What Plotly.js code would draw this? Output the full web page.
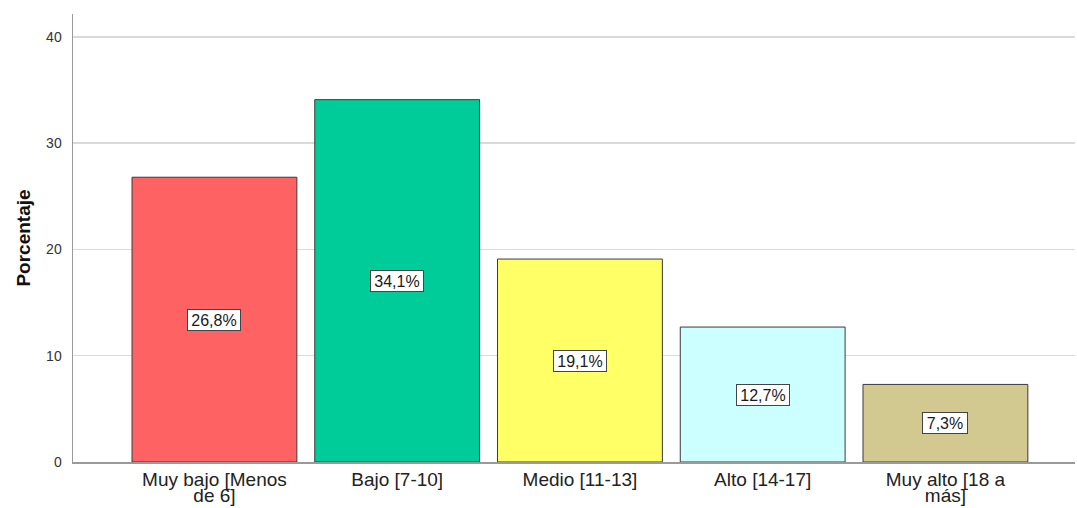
<!DOCTYPE html>
<html>
<head>
<meta charset="utf-8">
<script src="https://cdn.plot.ly/plotly-3.0.1.min.js"></script>
<style>html,body{margin:0;padding:0;background:#fff;}#chart{width:1077px;height:508px;}</style>
</head>
<body>
<div id="chart"></div>
<script>
const categories = ["Muy bajo [Menos<br>de 6]", "Bajo [7-10]", "Medio [11-13]", "Alto [14-17]", "Muy alto [18 a<br>más]"];
const values = [26.8, 34.1, 19.1, 12.7, 7.3];
const valueLabels = ["26,8%", "34,1%", "19,1%", "12,7%", "7,3%"];
const colors = ["#ff6262", "#00cc99", "#ffff66", "#ccffff", "#d1c98f"];
const yTicks = [0, 10, 20, 30, 40];

const FONT = "Liberation Sans, Arial, sans-serif";

const trace = {
  type: "bar",
  x: categories,
  y: values,
  marker: {color: colors, line: {color: "#3a3a3a", width: 1}},
  hoverinfo: "none"
};

const annotations = categories.map((c, i) => ({
  x: c, y: values[i] / 2, xref: "x", yref: "y",
  text: valueLabels[i], showarrow: false,
  width: valueLabels[i].length > 4 ? 50 : 42, height: 18,
  font: {family: FONT, size: 16, color: "#1a1a1a"},
  bgcolor: "#ffffff", bordercolor: "#444", borderwidth: 1, borderpad: 1
}));

const layout = {
  width: 1077, height: 508,
  margin: {l: 73, r: 2, t: 14, b: 46},
  paper_bgcolor: "#ffffff", plot_bgcolor: "#ffffff",
  bargap: 0.098,
  showlegend: false,
  xaxis: {
    type: "category",
    range: [-0.774, 4.709],
    showgrid: false, zeroline: false,
    showline: true, linecolor: "#9a9a9a", linewidth: 1.5,
    ticks: "", ticklabelstandoff: 0,
    tickfont: {family: FONT, size: 19, color: "#222"},
    fixedrange: true
  },
  yaxis: {
    range: [0, 42.16],
    tickvals: yTicks, ticktext: yTicks.map(String),
    showgrid: true, gridcolor: "#dadada", gridwidth: 1.5,
    zeroline: false, showline: true, linecolor: "#9a9a9a", linewidth: 1.5,
    ticks: "", ticklabelstandoff: 7,
    tickfont: {family: FONT, size: 14, color: "#333"},
    title: {text: "Porcentaje", standoff: 10, font: {family: FONT, size: 19, color: "#111", weight: "bold"}},
    fixedrange: true
  },
  annotations: annotations
};

function tightenTickLines() {
  document.querySelectorAll('#chart .xtick text tspan.line').forEach(t => {
    const dy = parseFloat(t.getAttribute('dy'));
    if (dy > 0) t.setAttribute('dy', (dy * 0.85 / 1.3) + 'em');
  });
}

Plotly.newPlot("chart", [trace], layout, {displayModeBar: false, staticPlot: true}).then(tightenTickLines);
</script>
</body>
</html>
